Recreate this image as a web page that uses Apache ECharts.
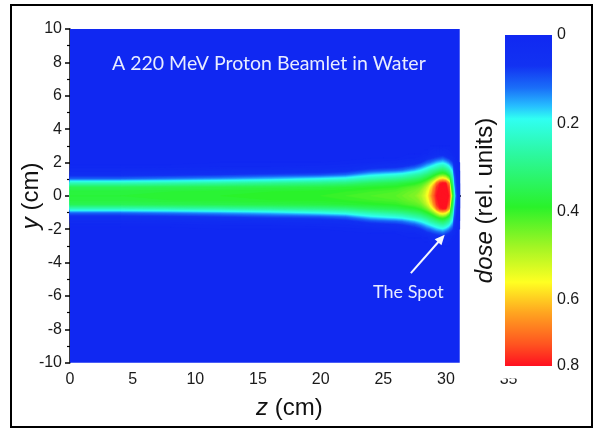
<!DOCTYPE html>
<html>
<head>
<meta charset="utf-8">
<script src="https://cdn.jsdelivr.net/npm/echarts@6/dist/echarts.min.js"></script>
<style>
  html, body { margin: 0; padding: 0; background: #fff; }
  #chart { width: 597px; height: 429px; }
</style>
</head>
<body>
<div id="chart"></div>
<script>
// depth positions of the sampled columns (cm)
var zCols = [0, 4, 8, 12, 16, 20, 22, 24, 25, 26, 26.5, 27, 27.5, 28, 28.25, 28.5, 28.75,
             29, 29.25, 29.5, 29.75, 30, 30.25, 30.5, 30.75, 31];
// lateral offsets |y| (cm), profile is mirrored for y < 0
var yRows = [0, 0.25, 0.5, 0.75, 1, 1.25, 1.5, 1.75, 2, 2.25, 2.5, 3];
// dose, one profile per column
var dose = [
    [.38, .375, .35, .25, .12, .06, .03, .015, .005, 0, 0, 0],
    [.38, .375, .35, .25, .12, .06, .03, .015, .005, 0, 0, 0],
    [.385, .38, .355, .26, .135, .065, .035, .015, .005, 0, 0, 0],
    [.39, .385, .36, .27, .15, .075, .04, .02, .01, 0, 0, 0],
    [.395, .39, .365, .285, .17, .09, .045, .02, .01, 0, 0, 0],
    [.40, .395, .37, .30, .20, .10, .05, .025, .01, 0, 0, 0],
    [.41, .40, .38, .31, .22, .12, .06, .03, .015, .005, 0, 0],
    [.42, .41, .39, .34, .26, .18, .10, .05, .02, .01, 0, 0],
    [.425, .415, .395, .35, .275, .195, .11, .055, .025, .01, 0, 0],
    [.43, .42, .40, .36, .29, .21, .12, .06, .03, .01, 0, 0],
    [.44, .43, .41, .37, .30, .22, .13, .07, .035, .015, .005, 0],
    [.45, .44, .42, .38, .315, .24, .15, .085, .04, .02, .01, 0],
    [.46, .45, .43, .39, .33, .26, .17, .10, .05, .02, .01, 0],
    [.49, .48, .45, .41, .35, .28, .20, .13, .07, .03, .01, 0],
    [.52, .51, .48, .43, .37, .30, .22, .15, .09, .04, .02, 0],
    [.56, .55, .52, .46, .39, .32, .24, .17, .11, .06, .02, 0],
    [.62, .61, .58, .51, .42, .34, .27, .19, .12, .07, .03, .01],
    [.69, .68, .65, .58, .46, .37, .29, .21, .14, .08, .04, .01],
    [.75, .74, .73, .68, .52, .40, .31, .23, .16, .09, .05, .01],
    [.79, .78, .77, .74, .58, .43, .33, .25, .17, .10, .05, .01],
    [.81, .80, .79, .76, .60, .44, .34, .26, .18, .11, .05, .01],
    [.80, .79, .78, .75, .57, .42, .32, .24, .16, .09, .04, .01],
    [.74, .73, .71, .66, .48, .36, .28, .20, .13, .07, .03, .01],
    [.40, .39, .37, .33, .28, .24, .19, .14, .09, .05, .02, 0],
    [.12, .12, .11, .10, .09, .08, .07, .05, .03, .02, .01, 0],
    [.03, .03, .03, .03, .02, .02, .02, .01, .01, 0, 0, 0]
];
var fieldZMax = 31.1;          // water phantom ends here in the picture
var spotArrow = [[27.2, -4.63], [29.9, -2.33]];
var barTicks = [0, 0.2, 0.4, 0.6, 0.8];
var barMax = 0.75;

// colour scale of the bar
var cmapStops = [0, 0.07, 0.12, 0.16, 0.19, 0.27, 0.39, 0.48, 0.56, 0.63, 0.70, 0.75];
var cmapColors = ['#1028f2', '#1232f2', '#1a6ef8', '#26bcff', '#30fff2', '#2cf8a0',
                  '#2af22a', '#a2f524', '#ffff22', '#ffa420', '#ff5520', '#ff1020'];

function doseColor(v) {
    if (v <= cmapStops[0]) return cmapColors[0];
    for (var k = 1; k < cmapStops.length; k++) {
        if (v <= cmapStops[k]) {
            var t = (v - cmapStops[k - 1]) / (cmapStops[k] - cmapStops[k - 1]);
            return echarts.color.lerp(t, [cmapColors[k - 1], cmapColors[k]]);
        }
    }
    return cmapColors[cmapColors.length - 1];
}

// half width of a profile at a given dose level
function halfWidth(prof, lv) {
    for (var j = 0; j < prof.length - 1; j++) {
        if (prof[j + 1] < lv) {
            return yRows[j] + (prof[j] - lv) / (prof[j] - prof[j + 1]) * (yRows[j + 1] - yRows[j]);
        }
    }
    return yRows[yRows.length - 1];
}

// filled contour levels, drawn from low to high
var levels = [];
for (var lv = 0.01; lv < 0.805; lv += 0.01) levels.push([+lv.toFixed(2)]);

function contourShape(lv, api) {
    var n = zCols.length, kids = [], i = 0;
    while (i < n) {
        if (dose[i][0] < lv) { i++; continue; }
        var i0 = i;
        while (i < n && dose[i][0] >= lv) i++;
        var i1 = i - 1;
        var top = [], bot = [];
        if (i0 > 0) {
            var a = dose[i0 - 1][0], b = dose[i0][0];
            var zs = zCols[i0 - 1] + (lv - a) / (b - a) * (zCols[i0] - zCols[i0 - 1]);
            top.push(api.coord([zs, 0]));
        }
        for (var k = i0; k <= i1; k++) {
            var w = halfWidth(dose[k], lv);
            top.push(api.coord([zCols[k], w]));
            bot.unshift(api.coord([zCols[k], -w]));
        }
        if (i1 < n - 1) {
            var c = dose[i1][0], d = dose[i1 + 1][0];
            var ze = zCols[i1] + (c - lv) / (c - d) * (zCols[i1 + 1] - zCols[i1]);
            top.push(api.coord([ze, 0]));
        } else {
            var wl = halfWidth(dose[i1], lv);
            top.push(api.coord([fieldZMax, wl]));
            bot.unshift(api.coord([fieldZMax, -wl]));
        }
        kids.push({ type: 'polygon', shape: { points: top.concat(bot) },
            style: { fill: doseColor(lv), stroke: doseColor(lv), lineWidth: 0.5 } });
    }
    return { type: 'group', children: kids };
}

var chart = echarts.init(document.getElementById('chart'));
var font = 'Liberation Sans';
var nameStyle = { fontSize: 24, color: '#111', fontFamily: font,
    rich: { i: { fontSize: 24, fontStyle: 'italic', color: '#111', fontFamily: font } } };

var option = {
    animation: false,
    grid: [
        { left: 70, top: 29, width: 438.6, height: 333.7 },
        { left: 505, top: 35, width: 47, height: 331 }
    ],
    xAxis: [
        {
            gridIndex: 0, type: 'value', min: 0, max: 35, interval: 5,
            name: '{i|z} (cm)', nameLocation: 'middle', nameGap: 34, nameMoveOverlap: false,
            nameTextStyle: nameStyle,
            axisLine: { lineStyle: { color: '#000', width: 1.5 } },
            axisTick: { length: 5, lineStyle: { color: '#000', width: 1.5 } },
            minorTick: { show: true, splitNumber: 2, length: 3, lineStyle: { color: '#000', width: 1.2 } },
            axisLabel: { fontSize: 16, color: '#1a1a1a', margin: 9, fontFamily: font },
            splitLine: { show: false }
        },
        { gridIndex: 1, type: 'value', min: 0, max: 1, show: false }
    ],
    yAxis: [
        {
            gridIndex: 0, type: 'value', min: -10, max: 10, interval: 2,
            name: '{i|y} (cm)', nameLocation: 'middle', nameGap: 27, nameMoveOverlap: false,
            nameTextStyle: nameStyle,
            axisLine: { lineStyle: { color: '#000', width: 1.5 } },
            axisTick: { length: 5, lineStyle: { color: '#000', width: 1.5 } },
            minorTick: { show: true, splitNumber: 2, length: 3, lineStyle: { color: '#000', width: 1.2 } },
            axisLabel: { fontSize: 16, color: '#1a1a1a', margin: 8, fontFamily: font },
            splitLine: { show: false }
        },
        {
            gridIndex: 1, type: 'value', position: 'right', min: 0, max: barMax, interval: 0.2,
            inverse: true, z: 20,
            axisLine: { show: false }, axisTick: { show: false }, splitLine: { show: false },
            axisLabel: {
                fontSize: 16, color: '#1a1a1a', margin: 5, fontFamily: font,
                formatter: function (v) {
                    return v >= barMax ? String(barTicks[barTicks.length - 1]) : String(v);
                }
            }
        },
        {
            gridIndex: 1, type: 'value', position: 'left', min: 0, max: 1, z: 20,
            axisLine: { show: false }, axisTick: { show: false }, splitLine: { show: false },
            axisLabel: { show: false },
            name: '{i|dose} (rel. units)', nameLocation: 'middle', nameGap: 8, nameMoveOverlap: false,
            nameTextStyle: nameStyle
        }
    ],
    series: [
        {
            // the water field
            type: 'custom', xAxisIndex: 0, yAxisIndex: 0, z: 2,
            data: [[0, fieldZMax]],
            renderItem: function (params, api) {
                var p0 = api.coord([api.value(0), 10]);
                var p1 = api.coord([api.value(1), -10]);
                return { type: 'rect', shape: { x: p0[0], y: p0[1], width: p1[0] - p0[0], height: p1[1] - p0[1] },
                    style: { fill: cmapColors[0] } };
            }
        },
        {
            // the beamlet as filled dose contours
            type: 'custom', xAxisIndex: 0, yAxisIndex: 0, z: 3,
            data: levels,
            renderItem: function (params, api) {
                return contourShape(api.value(0), api);
            }
        },
        {
            // arrow pointing at the spot
            type: 'custom', xAxisIndex: 0, yAxisIndex: 0, z: 4,
            data: [[spotArrow[0][0], spotArrow[0][1], spotArrow[1][0], spotArrow[1][1]]],
            renderItem: function (params, api) {
                var p0 = api.coord([api.value(0), api.value(1)]);
                var p1 = api.coord([api.value(2), api.value(3)]);
                var dx = p1[0] - p0[0], dy = p1[1] - p0[1], len = Math.sqrt(dx * dx + dy * dy);
                var ux = dx / len, uy = dy / len, hl = 10, hw = 4.5;
                var bx = p1[0] - ux * hl, by = p1[1] - uy * hl;
                return { type: 'group', children: [
                    { type: 'line', shape: { x1: p0[0], y1: p0[1], x2: bx + ux * 2, y2: by + uy * 2 },
                      style: { stroke: '#f4f6ff', lineWidth: 2 } },
                    { type: 'polygon', shape: { points: [p1, [bx - uy * hw, by + ux * hw], [bx + uy * hw, by - ux * hw]] },
                      style: { fill: '#f4f6ff' } }
                ] };
            }
        },
        {
            // colour bar
            type: 'custom', xAxisIndex: 1, yAxisIndex: 1, z: 30,
            data: [[0, barMax]],
            renderItem: function (params, api) {
                var p0 = api.coord([0, api.value(0)]);
                var p1 = api.coord([1, api.value(1)]);
                var stops = cmapStops.map(function (s, k) {
                    return { offset: s / barMax, color: cmapColors[k] };
                });
                return { type: 'rect', shape: { x: p0[0], y: p0[1], width: p1[0] - p0[0], height: p1[1] - p0[1] },
                    style: { fill: new echarts.graphic.LinearGradient(0, 0, 0, 1, stops) } };
            }
        }
    ],
    graphic: [
        { type: 'rect', z: 10, shape: { x: 461, y: 8, width: 130, height: 370.5 }, style: { fill: '#fff' } },
        { type: 'text', z: 10, x: 112, y: 64,
          style: { text: 'A 220 MeV Proton Beamlet in Water', fill: '#e8ecff', fontSize: 19.5, fontFamily: 'Lato', verticalAlign: 'middle' } },
        { type: 'text', z: 10, x: 373, y: 292,
          style: { text: 'The Spot', fill: '#e8ecff', fontSize: 18, fontFamily: 'Lato', verticalAlign: 'middle' } },
        { type: 'rect', z: 100, shape: { x: 11, y: 5, width: 581, height: 422 },
          style: { fill: null, stroke: '#000', lineWidth: 2 } }
    ]
};

chart.setOption(option);
</script>
</body>
</html>
